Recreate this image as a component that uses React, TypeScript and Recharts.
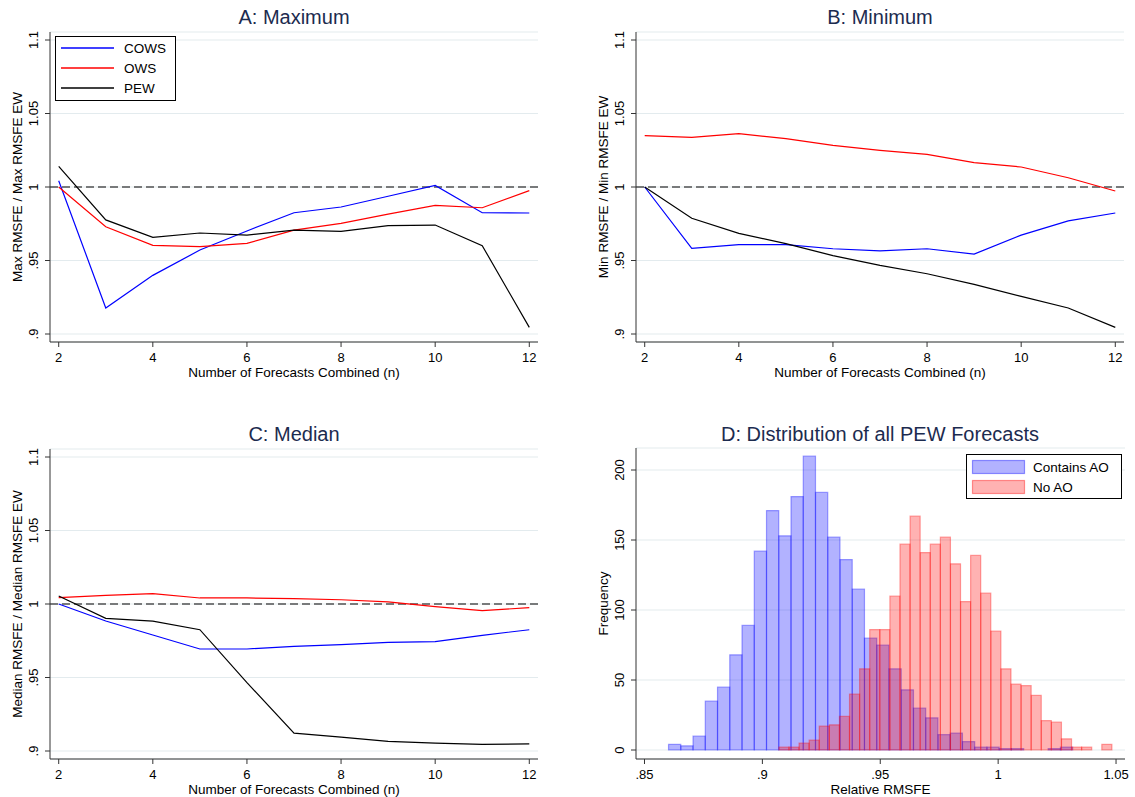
import {
  LineChart,
  Line,
  XAxis,
  YAxis,
  CartesianGrid,
  ReferenceLine,
  ReferenceArea,
  Legend,
} from 'recharts';

const FONT = '"Liberation Sans", Arial, Helvetica, sans-serif';
const TITLE_COLOR = '#1c2b4f';
const GRID = '#e3ebee';
const AXIS = '#333';

// panels A-C: number of forecasts combined
const N_COMBINED = [2, 3, 4, 5, 6, 7, 8, 9, 10, 11, 12];
const N_TICKS = [2, 4, 6, 8, 10, 12];
const RATIO_TICKS = [0.9, 0.95, 1, 1.05, 1.1];

const COWS_MAX = [1.0043, 0.9177, 0.9399, 0.9571, 0.9701, 0.9825, 0.9864, 0.9937, 1.0011, 0.9825, 0.9823];
const OWS_MAX = [1.0, 0.973, 0.9603, 0.9594, 0.9617, 0.9707, 0.9753, 0.9816, 0.9875, 0.9859, 0.9975];
const PEW_MAX = [1.0141, 0.9776, 0.9658, 0.9687, 0.9673, 0.9707, 0.9698, 0.9737, 0.9741, 0.9601, 0.9045];

const COWS_MIN = [1.0, 0.9583, 0.9608, 0.9608, 0.958, 0.9565, 0.958, 0.9544, 0.9673, 0.9769, 0.9823];
const OWS_MIN = [1.0349, 1.0338, 1.0363, 1.0329, 1.0283, 1.0249, 1.0222, 1.0166, 1.0136, 1.0063, 0.9973];
const PEW_MIN = [1.0, 0.9787, 0.9685, 0.9615, 0.9533, 0.9467, 0.941, 0.9338, 0.9256, 0.9177, 0.9045];

const COWS_MED = [1.0, 0.9884, 0.9789, 0.9694, 0.9694, 0.9712, 0.9723, 0.9739, 0.9744, 0.9787, 0.9825];
const OWS_MED = [1.0043, 1.0059, 1.007, 1.0041, 1.0041, 1.0036, 1.0029, 1.0014, 0.9982, 0.9955, 0.9975];
const PEW_MED = [1.0054, 0.9902, 0.9884, 0.9825, 0.9465, 0.9122, 0.9095, 0.9066, 0.9054, 0.9045, 0.9048];

// panel D: histograms of relative RMSFE (33 bins each)
const RMSFE_TICKS = [0.85, 0.9, 0.95, 1, 1.05];
const FREQ_TICKS = [0, 50, 100, 150, 200];
const AO_START = 0.8602;
const AO_WIDTH = 0.005194;
const AO_COUNTS = [4, 3, 10, 35, 45, 68, 89, 142, 171, 153, 181, 210, 184, 152, 136, 115, 80, 75, 58, 43, 30, 23, 11, 12, 6, 2, 2, 1, 1, 0, 0, 1, 2];
const NOAO_START = 0.907;
const NOAO_WIDTH = 0.00428;
const NOAO_COUNTS = [2, 2, 5, 7, 17, 18, 24, 40, 58, 86, 86, 110, 147, 167, 141, 147, 152, 133, 106, 139, 112, 85, 58, 47, 46, 39, 21, 20, 8, 2, 2, 0, 4];

const SERIES = [
  { key: 'cows', name: 'COWS', color: '#0000ff' },
  { key: 'ows', name: 'OWS', color: '#ff0000' },
  { key: 'pew', name: 'PEW', color: '#000000' },
];

const PLOT_TOP = 32;
const PLOT_BOTTOM = 342;
const PLOT_RIGHT = 538;

const fmt = (v: number) => String(v).replace(/^0\./, '.');

function VTick({ x, y, payload }: any) {
  return (
    <text x={x} y={y} transform={`rotate(-90 ${x} ${y})`} textAnchor="middle" fontSize={13} fontFamily={FONT} fill="#000">
      {fmt(payload.value)}
    </text>
  );
}

function HTick({ x, y, payload }: any) {
  return (
    <text x={x} y={y} dy={13} textAnchor="middle" fontSize={13} fontFamily={FONT} fill="#000">
      {fmt(payload.value)}
    </text>
  );
}

const yTitle = (text: string) => (props: any) => {
  const vb = props.viewBox || { x: 0, y: PLOT_TOP, height: PLOT_BOTTOM - PLOT_TOP };
  const x = vb.x + 21.5;
  const y = vb.y + vb.height / 2;
  return (
    <text x={x} y={y} transform={`rotate(-90 ${x} ${y})`} textAnchor="middle" fontSize={13.5} fontFamily={FONT} fill="#000">
      {text}
    </text>
  );
};

const xTitle = (text: string) => (props: any) => {
  const vb = props.viewBox || { x: 50, y: PLOT_BOTTOM, width: 488 };
  return (
    <text x={vb.x + vb.width / 2} y={vb.y + 35} textAnchor="middle" fontSize={13.5} fontFamily={FONT} fill="#000">
      {text}
    </text>
  );
};

function Title({ text }: { text: string }) {
  return (
    <div
      style={{
        position: 'absolute',
        left: 50,
        top: 6.5,
        width: 488,
        textAlign: 'center',
        fontFamily: FONT,
        fontSize: 20,
        lineHeight: '20px',
        color: TITLE_COLOR,
        whiteSpace: 'nowrap',
      }}
    >
      {text}
    </div>
  );
}

function LineLegend() {
  return (
    <div
      style={{
        width: 121,
        height: 65,
        boxSizing: 'border-box',
        border: '1px solid #000',
        background: '#fff',
        paddingTop: 1,
        fontFamily: FONT,
        fontSize: 13.5,
      }}
    >
      {SERIES.map((s) => (
        <div key={s.key} style={{ display: 'flex', alignItems: 'center', height: 20 }}>
          <svg width={68} height={4} style={{ flex: 'none' }}>
            <line x1={5} x2={58} y1={2} y2={2} stroke={s.color} strokeWidth={1.3} />
          </svg>
          <span>{s.name}</span>
        </div>
      ))}
    </div>
  );
}

function HistLegend() {
  const items = [
    { name: 'Contains AO', color: '#0000ff' },
    { name: 'No AO', color: '#ff0000' },
  ];
  return (
    <div
      style={{
        width: 156,
        height: 45,
        boxSizing: 'border-box',
        border: '1px solid #000',
        background: '#fff',
        paddingTop: 2,
        fontFamily: FONT,
        fontSize: 13.5,
      }}
    >
      {items.map((it) => (
        <div key={it.name} style={{ display: 'flex', alignItems: 'center', height: 20 }}>
          <svg width={66} height={16} style={{ flex: 'none' }}>
            <rect x={5.5} y={1.5} width={52} height={13} fill={it.color} fillOpacity={0.3} stroke={it.color} strokeOpacity={0.4} strokeWidth={1.2} />
          </svg>
          <span>{it.name}</span>
        </div>
      ))}
    </div>
  );
}

interface LineProps {
  title: string;
  yLabel: string;
  cows: number[];
  ows: number[];
  pew: number[];
  left: number;
  top: number;
  width: number;
  height: number;
  legend?: boolean;
}

function LinePanel({ title, yLabel, cows, ows, pew, left, top, width, height, legend }: LineProps) {
  const data = N_COMBINED.map((n, i) => ({ n, cows: cows[i], ows: ows[i], pew: pew[i] }));
  return (
    <div style={{ position: 'absolute', left, top, width, height }}>
      <LineChart width={width} height={height} data={data} margin={{ top: PLOT_TOP, right: width - PLOT_RIGHT, bottom: 0, left: 0 }}>
        <CartesianGrid vertical={false} stroke={GRID} strokeWidth={1.2} />
        <XAxis
          type="number"
          dataKey="n"
          domain={[1.815, 12.185]}
          allowDataOverflow
          ticks={N_TICKS}
          height={height - PLOT_BOTTOM}
          tickSize={5}
          tickMargin={2}
          tick={<HTick />}
          axisLine={{ stroke: AXIS }}
          tickLine={{ stroke: AXIS }}
          label={xTitle('Number of Forecasts Combined (n)')}
        />
        <YAxis
          type="number"
          domain={[0.9, 1.1]}
          ticks={RATIO_TICKS}
          padding={{ top: 8, bottom: 8 }}
          width={50}
          tickSize={5}
          tickMargin={7}
          tick={<VTick />}
          axisLine={{ stroke: AXIS }}
          tickLine={{ stroke: AXIS }}
          label={yTitle(yLabel)}
        />
        <ReferenceLine y={1} stroke="#000" strokeDasharray="8 4" strokeWidth={1.2} />
        {SERIES.map((s) => (
          <Line
            key={s.key}
            type="linear"
            dataKey={s.key}
            name={s.name}
            stroke={s.color}
            strokeWidth={1.2}
            dot={false}
            isAnimationActive={false}
          />
        ))}
        {legend && (
          <Legend
            layout="horizontal"
            verticalAlign="middle"
            align="center"
            wrapperStyle={{ left: 55, top: 36, width: 121, height: 65 }}
            content={() => <LineLegend />}
          />
        )}
      </LineChart>
      <Title text={title} />
    </div>
  );
}

function HistPanel({ left, top, width, height }: { left: number; top: number; width: number; height: number }) {
  return (
    <div style={{ position: 'absolute', left, top, width, height }}>
      <LineChart width={width} height={height} data={[]} margin={{ top: PLOT_TOP - 1, right: width - 539, bottom: 0, left: 0 }}>
        <CartesianGrid vertical={false} stroke={GRID} strokeWidth={1.2} />
        <XAxis
          type="number"
          dataKey="x"
          domain={[0.8464, 1.0538]}
          allowDataOverflow
          ticks={RMSFE_TICKS}
          height={height - PLOT_BOTTOM}
          tickSize={5}
          tickMargin={2}
          tick={<HTick />}
          axisLine={{ stroke: AXIS }}
          tickLine={{ stroke: AXIS }}
          label={xTitle('Relative RMSFE')}
        />
        <YAxis
          type="number"
          domain={[0, 210]}
          allowDataOverflow
          ticks={FREQ_TICKS}
          padding={{ top: 8, bottom: 9 }}
          width={50}
          tickSize={5}
          tickMargin={7}
          tick={<VTick />}
          axisLine={{ stroke: AXIS }}
          tickLine={{ stroke: AXIS }}
          label={yTitle('Frequency')}
        />
        {AO_COUNTS.map((c, i) =>
          c > 0 ? (
            <ReferenceArea
              key={`ao${i}`}
              x1={AO_START + i * AO_WIDTH}
              x2={AO_START + (i + 1) * AO_WIDTH}
              y1={0}
              y2={c}
              fill="#0000ff"
              fillOpacity={0.3}
              stroke="#0000ff"
              strokeOpacity={0.35}
              strokeWidth={1.2}
              ifOverflow="visible"
            />
          ) : null,
        )}
        {NOAO_COUNTS.map((c, i) =>
          c > 0 ? (
            <ReferenceArea
              key={`no${i}`}
              x1={NOAO_START + i * NOAO_WIDTH}
              x2={NOAO_START + (i + 1) * NOAO_WIDTH}
              y1={0}
              y2={c}
              fill="#ff0000"
              fillOpacity={0.3}
              stroke="#ff0000"
              strokeOpacity={0.35}
              strokeWidth={1.2}
              ifOverflow="visible"
            />
          ) : null,
        )}
        <Legend
          layout="horizontal"
          verticalAlign="middle"
          align="center"
          wrapperStyle={{ left: 380, top: 37, width: 156, height: 45 }}
          content={() => <HistLegend />}
        />
      </LineChart>
      <Title text="D: Distribution of all PEW Forecasts" />
    </div>
  );
}

export default function App() {
  return (
    <div style={{ position: 'absolute', left: 0, top: 0, width: 1135, height: 797, overflow: 'hidden', background: '#fff' }}>
      <LinePanel
        title="A: Maximum"
        yLabel="Max RMSFE / Max RMSFE EW"
        cows={COWS_MAX}
        ows={OWS_MAX}
        pew={PEW_MAX}
        left={0}
        top={0}
        width={567}
        height={398}
        legend
      />
      <LinePanel
        title="B: Minimum"
        yLabel="Min RMSFE / Min RMSFE EW"
        cows={COWS_MIN}
        ows={OWS_MIN}
        pew={PEW_MIN}
        left={586}
        top={0}
        width={549}
        height={398}
      />
      <LinePanel
        title="C: Median"
        yLabel="Median RMSFE / Median RMSFE EW"
        cows={COWS_MED}
        ows={OWS_MED}
        pew={PEW_MED}
        left={0}
        top={417}
        width={567}
        height={380}
      />
      <HistPanel left={586} top={417} width={549} height={380} />
    </div>
  );
}
